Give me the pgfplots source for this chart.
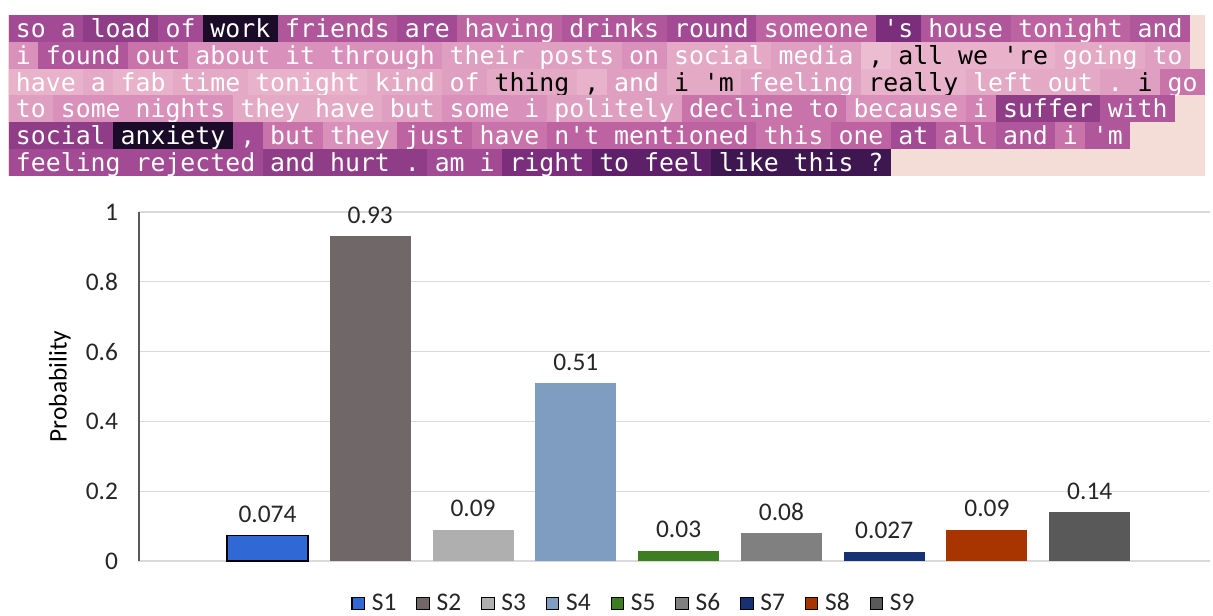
\documentclass[border=0pt]{standalone}
\usepackage{pgfplots}
\pgfplotsset{compat=1.18}
\usepackage{fontspec}
\setmainfont{Carlito}
\newfontfamily\mono{DejaVu Sans Mono}

% heat colours, light to dark
\definecolor{hA}{HTML}{ECBCD0}
\definecolor{hB}{HTML}{E8B2CA}
\definecolor{hC}{HTML}{E4A9C5}
\definecolor{hD}{HTML}{DF9FC0}
\definecolor{hE}{HTML}{D990BA}
\definecolor{hF}{HTML}{D283B3}
\definecolor{hG}{HTML}{C873AA}
\definecolor{hH}{HTML}{BD63A2}
\definecolor{hI}{HTML}{B0569B}
\definecolor{hJ}{HTML}{A24A93}
\definecolor{hK}{HTML}{903D88}
\definecolor{hL}{HTML}{7A2E7C}
\definecolor{hM}{HTML}{5E2169}
\definecolor{hN}{HTML}{3E1650}
\definecolor{hO}{HTML}{1A0B28}
\definecolor{peach}{HTML}{F3DDD6}

% bar colours
\definecolor{cS1}{HTML}{3069D6}
\definecolor{cS2}{HTML}{706868}
\definecolor{cS3}{HTML}{AFAFAF}
\definecolor{cS4}{HTML}{7F9DC1}
\definecolor{cS5}{HTML}{3E7E23}
\definecolor{cS6}{HTML}{808080}
\definecolor{cS7}{HTML}{163275}
\definecolor{cS8}{HTML}{A83500}
\definecolor{cS9}{HTML}{595959}

\tikzset{tok/.style={anchor=west, inner xsep=3.74pt, inner ysep=0pt, outer sep=0pt,
  minimum height=13.42pt, text height=10.45pt, text depth=1.35pt,
  font=\mono\fontsize{12.42}{14}\selectfont}}
\newcommand\st[1]{\coordinate (t) at (4.25pt,#1);}
\newcommand\tk[3]{\node[tok,fill=h#1,text=#2] (t) at (t.east) {#3};}

\newcommand\chartfont{\fontsize{12.7}{15}\selectfont}

\begin{document}
\begin{tikzpicture}
\useasboundingbox (0,0) rectangle (606.5pt,-307.5pt);

\fill[peach] (4pt,-7.5pt) rectangle (602.5pt,-88pt);

\st{-14.21pt}
\tk{J}{white}{so}\tk{J}{white}{a}\tk{K}{white}{load}\tk{J}{white}{of}\tk{O}{white}{work}
\tk{I}{white}{friends}\tk{J}{white}{are}\tk{H}{white}{having}\tk{I}{white}{drinks}
\tk{J}{white}{round}\tk{H}{white}{someone}\tk{L}{white}{'s}\tk{I}{white}{house}
\tk{H}{white}{tonight}\tk{I}{white}{and}

\st{-27.62pt}
\tk{E}{white}{i}\tk{I}{white}{found}\tk{G}{white}{out}\tk{E}{white}{about}\tk{E}{white}{it}
\tk{E}{white}{through}\tk{D}{white}{their}\tk{D}{white}{posts}\tk{E}{white}{on}
\tk{C}{white}{social}\tk{D}{white}{media}\tk{A}{black}{,}\tk{B}{black}{all}\tk{B}{black}{we}
\tk{B}{black}{'re}\tk{C}{white}{going}\tk{D}{white}{to}

\st{-41.04pt}
\tk{B}{white}{have}\tk{C}{white}{a}\tk{B}{white}{fab}\tk{C}{white}{time}\tk{B}{white}{tonight}
\tk{C}{white}{kind}\tk{D}{white}{of}\tk{C}{black}{thing}\tk{B}{black}{,}\tk{D}{white}{and}
\tk{C}{black}{i}\tk{C}{black}{'m}\tk{D}{white}{feeling}\tk{B}{black}{really}\tk{C}{white}{left}
\tk{C}{white}{out}\tk{D}{white}{.}\tk{D}{black}{i}\tk{G}{white}{go}

\st{-54.45pt}
\tk{D}{white}{to}\tk{E}{white}{some}\tk{E}{white}{nights}\tk{C}{white}{they}\tk{C}{white}{have}
\tk{D}{white}{but}\tk{E}{white}{some}\tk{E}{white}{i}\tk{D}{white}{politely}\tk{G}{white}{decline}
\tk{G}{white}{to}\tk{E}{white}{because}\tk{F}{white}{i}\tk{K}{white}{suffer}\tk{I}{white}{with}

\st{-67.87pt}
\tk{K}{white}{social}\tk{O}{white}{anxiety}\tk{J}{white}{,}\tk{G}{white}{but}\tk{E}{white}{they}
\tk{H}{white}{just}\tk{G}{white}{have}\tk{H}{white}{n't}\tk{H}{white}{mentioned}\tk{G}{white}{this}
\tk{H}{white}{one}\tk{J}{white}{at}\tk{H}{white}{all}\tk{I}{white}{and}\tk{G}{white}{i}\tk{I}{white}{'m}

\st{-81.28pt}
\tk{J}{white}{feeling}\tk{J}{white}{rejected}\tk{K}{white}{and}\tk{K}{white}{hurt}\tk{K}{white}{.}
\tk{J}{white}{am}\tk{J}{white}{i}\tk{L}{white}{right}\tk{M}{white}{to}\tk{M}{white}{feel}
\tk{N}{white}{like}\tk{N}{white}{this}\tk{N}{white}{?}

\begin{axis}[
    at={(69.5pt,-280.5pt)}, anchor=south west,
    scale only axis, width=535.5pt, height=174.5pt,
    xmin=-0.25, xmax=10.17, ymin=0, ymax=1,
    axis x line=none, axis y line*=left,
    y axis line style={-, draw=black!65, line width=0.8pt},
    ybar, bar width=40.5pt,
    xtick=\empty,
    ytick={0,0.2,0.4,0.6,0.8,1},
    major tick length=0pt,
    ymajorgrids, grid style={draw=black!15, line width=0.6pt},
    /pgf/number format/assume math mode=true,
    yticklabel style={font=\chartfont, text=black!85, xshift=-7pt},
    ylabel={Probability},
    every axis y label/.style={at={(axis description cs:-0.0738,0.5)},
        anchor=center, rotate=90, font=\chartfont, text=black},
    nodes near coords, point meta=explicit symbolic,
    every node near coord/.append style={font=\chartfont, text=black!85,
        anchor=base, yshift=6.5pt},
    legend columns=9,
    legend style={at={(0.463,-0.122)}, anchor=center, draw=none,
        font=\chartfont, text=black!85,
        /tikz/every odd column/.append style={column sep=1.5pt},
        /tikz/every even column/.append style={column sep=8pt}},
    legend image code/.code={\draw[#1,/tikz/.cd] (0pt,-3pt) rectangle (6.2pt,3.2pt);},
]
\addplot[bar shift=0pt, fill=cS1, draw=black, line width=0.6pt] coordinates {(1,0.074) [0.074]};
\addlegendentry{S1}
\addplot[bar shift=0pt, fill=cS2, draw=none] coordinates {(2,0.93) [0.93]};
\addlegendentry{S2}
\addplot[bar shift=0pt, fill=cS3, draw=none] coordinates {(3,0.09) [0.09]};
\addlegendentry{S3}
\addplot[bar shift=0pt, fill=cS4, draw=none] coordinates {(4,0.51) [0.51]};
\addlegendentry{S4}
\addplot[bar shift=0pt, fill=cS5, draw=none] coordinates {(5,0.03) [0.03]};
\addlegendentry{S5}
\addplot[bar shift=0pt, fill=cS6, draw=none] coordinates {(6,0.08) [0.08]};
\addlegendentry{S6}
\addplot[bar shift=0pt, fill=cS7, draw=none] coordinates {(7,0.027) [0.027]};
\addlegendentry{S7}
\addplot[bar shift=0pt, fill=cS8, draw=none] coordinates {(8,0.09) [0.09]};
\addlegendentry{S8}
\addplot[bar shift=0pt, fill=cS9, draw=none] coordinates {(9,0.14) [0.14]};
\addlegendentry{S9}
\end{axis}
\end{tikzpicture}
\end{document}
